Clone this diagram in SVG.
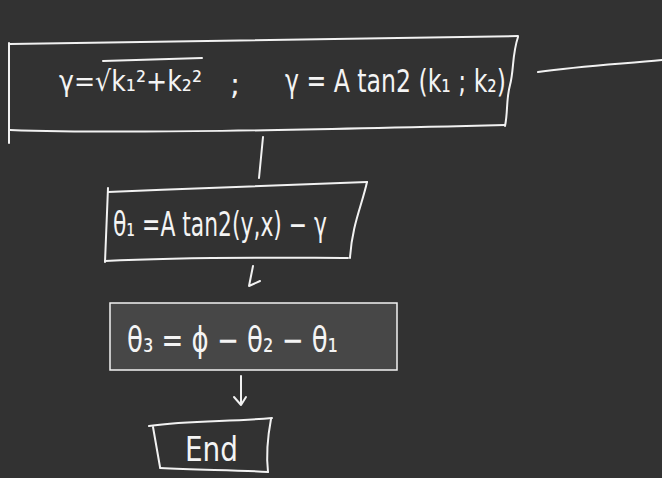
<svg xmlns="http://www.w3.org/2000/svg" width="662" height="478" viewBox="0 0 662 478">
<style>
.ink{fill:none;stroke:#f2f2f2;stroke-width:2;stroke-linecap:round;stroke-linejoin:round}
.t{fill:#f4f4f4;font-family:"DejaVu Sans","Liberation Sans",sans-serif;font-weight:normal}
</style>
<rect x="0" y="0" width="662" height="478" fill="#323232"/>
<g id="node-formula-r-gamma">
<path class="ink" d="M10,44 C150,42 300,40 518,36"/>
<path class="ink" d="M9,43 L9,143"/>
<path class="ink" d="M10,130 C120,134 300,130 505,125"/>
<path class="ink" d="M518,37 C512,55 514,70 510,85 C506,100 508,112 505,126"/>
<text class="t" x="59" y="91" font-size="28" textLength="143" lengthAdjust="spacingAndGlyphs">γ=√k₁²+k₂²</text>
<path class="ink" d="M103,61 L202,58"/>
<text class="t" x="230" y="94" font-size="30">;</text>
<text class="t" x="285" y="92" font-size="32" textLength="221" lengthAdjust="spacingAndGlyphs">γ = A tan2 (k₁ ; k₂)</text>
</g>
<g id="node-theta1">
<path class="ink" d="M108,188 L105,262"/>
<path class="ink" d="M108,192 C200,188 300,184 367,182"/>
<path class="ink" d="M367,182 C362,205 352,225 350,258"/>
<path class="ink" d="M105,261 C200,256 300,258 348,258"/>
<text class="t" x="113" y="236" font-size="33" textLength="214" lengthAdjust="spacingAndGlyphs">θ₁ =A tan2(y,x) − γ</text>
</g>
<g id="node-theta3">
<rect x="110" y="303" width="287" height="67" fill="#474747" stroke="#f2f2f2" stroke-width="1.5"/>
<text class="t" x="127" y="352" font-size="35" textLength="211" lengthAdjust="spacingAndGlyphs">θ₃ = ϕ − θ₂ − θ₁</text>
</g>
<g id="node-end">
<path class="ink" d="M149,426 C190,420 230,422 272,418"/>
<path class="ink" d="M153,427 L160,467"/>
<path class="ink" d="M160,468 C200,470 240,470 268,472"/>
<path class="ink" d="M271,419 C268,435 266,455 268,472"/>
<text class="t" x="185" y="461" font-size="34" textLength="53" lengthAdjust="spacingAndGlyphs">End</text>
</g>
<g id="connectors">
<path class="ink" d="M538,72 C580,66 620,64 662,60"/>
<path class="ink" d="M263,137 L259,178"/>
<path class="ink" d="M253,266 L249,286 L260,281"/>
<path class="ink" d="M241,376 L241,405 M234,397 L241,405 L246,397"/>
</g>
</svg>
